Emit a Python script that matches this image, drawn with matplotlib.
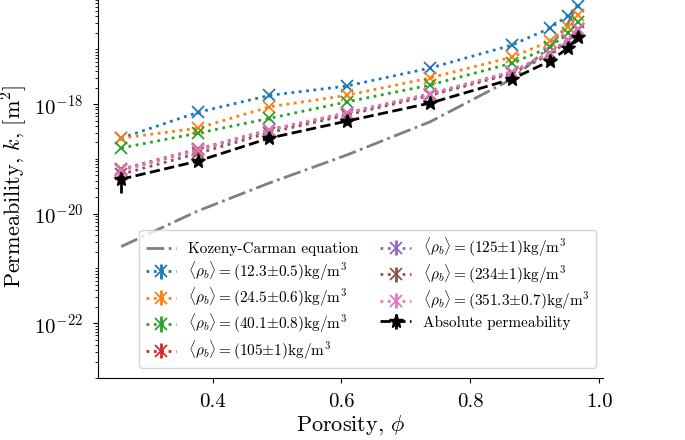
import numpy as np
import matplotlib
matplotlib.use('Agg')
import matplotlib.pyplot as plt
from matplotlib.ticker import LogLocator, NullFormatter

plt.rcParams['font.family'] = 'serif'
plt.rcParams['font.serif'] = ['cmr10']
plt.rcParams['mathtext.fontset'] = 'cm'
plt.rcParams['axes.formatter.use_mathtext'] = True

porosity = [0.258, 0.377, 0.488, 0.608, 0.738, 0.865, 0.924, 0.951, 0.967]

# log10 of permeability
kc_log = [-20.60, -19.95, -19.44, -18.93, -18.32, -17.54, -16.95, -16.54, -16.17]
blue_log = [-18.62, -18.15, -17.84, -17.67, -17.34, -16.92, -16.61, -16.39, -16.20]
orange_log = [-18.62, -18.44, -18.05, -17.84, -17.52, -17.14, -16.85, -16.59, -16.37]
green_log = [-18.80, -18.53, -18.26, -17.96, -17.65, -17.25, -16.96, -16.70, -16.50]
red_log = [-19.19, -18.82, -18.47, -18.16, -17.81, -17.41, -17.06, -16.82, -16.62]
purple_log = [-19.21, -18.84, -18.48, -18.17, -17.82, -17.42, -17.07, -16.83, -16.63]
brown_log = [-19.28, -18.90, -18.52, -18.20, -17.84, -17.44, -17.09, -16.85, -16.65]
pink_log = [-19.20, -18.83, -18.47, -18.16, -17.81, -17.41, -17.06, -16.82, -16.62]
abs_log = [-19.37, -19.04, -18.62, -18.31, -17.98, -17.54, -17.21, -16.98, -16.78]

# relative errors
rel_err = [0.06, 0.05, 0.05, 0.05, 0.05, 0.05, 0.05, 0.05, 0.05]
abs_rel_err = [0.45, 0.06, 0.05, 0.05, 0.05, 0.05, 0.05, 0.05, 0.05]

labels = [r'$\langle\rho_b\rangle = (12.3{\pm}0.5)\mathrm{kg/m^3}$',
          r'$\langle\rho_b\rangle = (24.5{\pm}0.6)\mathrm{kg/m^3}$',
          r'$\langle\rho_b\rangle = (40.1{\pm}0.8)\mathrm{kg/m^3}$',
          r'$\langle\rho_b\rangle = (105{\pm}1)\mathrm{kg/m^3}$',
          r'$\langle\rho_b\rangle = (125{\pm}1)\mathrm{kg/m^3}$',
          r'$\langle\rho_b\rangle = (234{\pm}1)\mathrm{kg/m^3}$',
          r'$\langle\rho_b\rangle = (351.3{\pm}0.7)\mathrm{kg/m^3}$']
series = [blue_log, orange_log, green_log, red_log, purple_log, brown_log, pink_log]
colors = ['tab:blue', 'tab:orange', 'tab:green', 'tab:red', 'tab:purple', 'tab:brown', 'tab:pink']

fig = plt.figure(figsize=(6.85, 4.4), dpi=100)
ax = fig.add_axes([98 / 685, 62 / 440, 505 / 685, 383.4 / 440])

ax.plot(porosity, 10.0 ** np.array(kc_log), '-.', color='gray', lw=2, label='Kozeny-Carman equation')

for vals, c, lab in zip(series, colors, labels):
    k = 10.0 ** np.array(vals)
    ax.errorbar(porosity, k, yerr=k * np.array(rel_err), fmt='x:', color=c, ms=9, mew=1.3,
                lw=2, capsize=0, label=lab)

k_abs = 10.0 ** np.array(abs_log)
ax.errorbar(porosity, k_abs, yerr=k_abs * np.array(abs_rel_err), fmt='*--', color='black', ms=10,
            lw=2, elinewidth=2, capsize=0, label='Absolute permeability')

ax.set_yscale('log')
ax.set_ylim(1e-23, 1e-16)
ax.set_xlim(0.222, 1.006)
ax.set_xticks([0.4, 0.6, 0.8, 1.0])
ax.set_xticklabels(['0.4', '0.6', '0.8', '1.0'])
ax.set_yticks([1e-22, 1e-20, 1e-18])
ax.yaxis.set_minor_locator(LogLocator(base=10, subs=np.arange(1, 10), numticks=20))
ax.yaxis.set_minor_formatter(NullFormatter())
ax.tick_params(labelsize=15, pad=7)

ax.spines['top'].set_visible(False)
ax.spines['right'].set_visible(False)

ax.set_xlabel(r'Porosity, $\phi$', fontsize=16, labelpad=2)
ax.set_ylabel(r'Permeability, $k$, [m$^2$]', fontsize=16)

ax.legend(ncol=2, fontsize=11, loc='lower center', bbox_to_anchor=(0.534, 0.026),
          columnspacing=1.4, handlelength=2.0, labelspacing=0.22, borderaxespad=0)

fig.savefig('out.png', dpi=100)
